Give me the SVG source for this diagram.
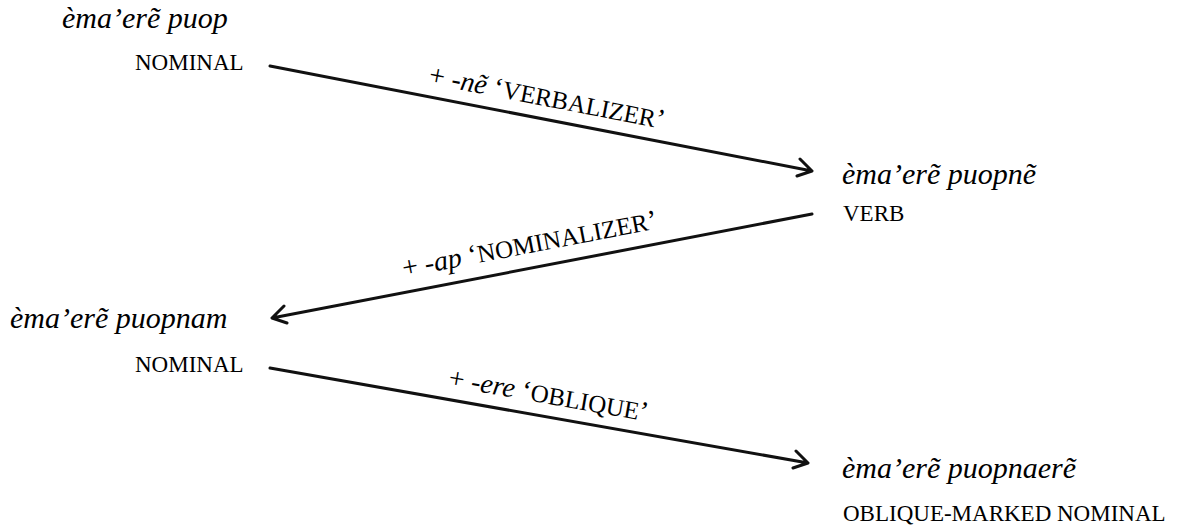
<svg xmlns="http://www.w3.org/2000/svg" width="1177" height="531" viewBox="0 0 1177 531">
<g id="n1"><text x="62" y="28" font-family="Liberation Serif" font-style="italic" font-size="30">èma’erẽ puop</text><text x="135" y="70" font-family="Liberation Serif" font-size="23">NOMINAL</text></g>
<g id="n2"><text x="842" y="184" font-family="Liberation Serif" font-style="italic" font-size="30">èma’erẽ puopnẽ</text><text x="843" y="221" font-family="Liberation Serif" font-size="23">VERB</text></g>
<g id="n3"><text x="10" y="328" font-family="Liberation Serif" font-style="italic" font-size="30">èma’erẽ puopnam</text><text x="135" y="372" font-family="Liberation Serif" font-size="23">NOMINAL</text></g>
<g id="n4"><text x="842" y="478" font-family="Liberation Serif" font-style="italic" font-size="30">èma’erẽ puopnaerẽ</text><text x="843" y="521" font-family="Liberation Serif" font-size="23">OBLIQUE-MARKED NOMINAL</text></g>
<g id="connectors" stroke="#111" stroke-width="3" fill="none" stroke-linecap="round" stroke-linejoin="round">
<path d="M270,66 L812,171 M800,159 L812,171 L797,176"/>
<path d="M812,214 L272,318 M284,306 L272,318 L287,323"/>
<path d="M270,368 L808,463 M796,451 L808,463 L793,468"/>
</g>
<g id="labels">
<text transform="translate(541,118.5) rotate(10.96)" x="2" y="-13" text-anchor="middle" font-family="Liberation Serif" font-size="28">+ <tspan font-style="italic">-nẽ</tspan> ‘<tspan font-size="25">VERBALIZER</tspan>’</text>
<text transform="translate(542,266) rotate(-10.9)" x="-8" y="-15" text-anchor="middle" font-family="Liberation Serif" font-size="28">+ <tspan font-style="italic">-ap</tspan> ‘<tspan font-size="25">NOMINALIZER</tspan>’</text>
<text transform="translate(539,415.5) rotate(10.01)" x="6" y="-13" text-anchor="middle" font-family="Liberation Serif" font-size="28">+ <tspan font-style="italic">-ere</tspan> ‘<tspan font-size="25">OBLIQUE</tspan>’</text>
</g>
</svg>
